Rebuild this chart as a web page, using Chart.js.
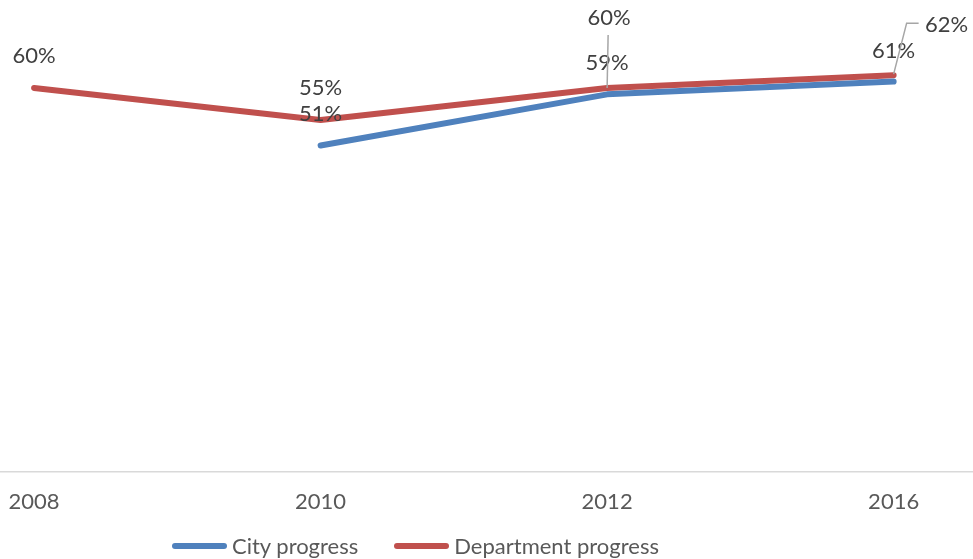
<!DOCTYPE html>
<html>
<head>
<meta charset="utf-8">
<script src="https://cdn.jsdelivr.net/npm/chart.js@4"></script>
<style>
  html, body { margin: 0; padding: 0; background: #fff; }
  #wrap { width: 973px; height: 559px; position: relative; }
  #legend { position: absolute; left: 172px; top: 532px; display: flex; align-items: center;
            font: 22px Lato, 'Open Sans', sans-serif; color: #595959; line-height: 28px; }
  #legend .item { display: flex; align-items: center; margin-right: 36px; }
  #legend .swatch { width: 55px; height: 6px; border-radius: 3px; margin-right: 5px; }
</style>
</head>
<body>
<div id="wrap"><canvas id="chart"></canvas><div id="legend"></div></div>
<script>
"use strict"

const years = ["2008", "2010", "2012", "2016"]
const cityProgress = [null, 0.51, 0.59, 0.61]
const deptProgress = [0.60, 0.55, 0.60, 0.62]

const FONT = "Lato, 'Open Sans', sans-serif"

// label offsets in px: [dx, dy, leader line?]
const labelPos = {
  0: [[0, 0], [0, -32], [0, -31], [0, -31]],
  1: [[0, -32], [0, -32], [2, -70, "v"], [53, -50, "elbow"]]
}

const pct = v => Math.round(v * 100) + "%"
const pts = arr => arr.map((v, i) => ({x: i, y: v}))

const dataLabelPlugin = {
  id: "valueLabels",
  afterDatasetsDraw(chart) {
    const ctx = chart.ctx
    ctx.save()
    ctx.font = "22px " + FONT
    ctx.fillStyle = "#404040"
    ctx.textAlign = "center"
    ctx.textBaseline = "middle"
    chart.data.datasets.forEach((ds, di) => {
      const meta = chart.getDatasetMeta(di)
      meta.data.forEach((el, i) => {
        const v = ds.data[i].y
        if (v == null) return
        const [dx, dy, kind] = labelPos[di][i]
        const tx = el.x + dx, ty = el.y + dy
        if (kind) {
          ctx.strokeStyle = "#a6a6a6"
          ctx.lineWidth = 1.5
          ctx.beginPath()
          if (kind == "v") {
            ctx.moveTo(tx - 1, ty + 17)
            ctx.lineTo(el.x, el.y)
          } else {
            ctx.moveTo(tx - 28, ty - 2)
            ctx.lineTo(tx - 40, ty - 2)
            ctx.lineTo(el.x, el.y - 1)
          }
          ctx.stroke()
        }
        ctx.fillText(pct(v), tx, ty)
      })
    })
    ctx.restore()
  }
}

const chart = new Chart("chart", {
  type: "line",
  data: {
    datasets: [
      { label: "City progress", data: pts(cityProgress), borderColor: "#4f81bd", backgroundColor: "#4f81bd" },
      { label: "Department progress", data: pts(deptProgress), borderColor: "#c0504d", backgroundColor: "#c0504d" }
    ]
  },
  options: {
    responsive: true,
    maintainAspectRatio: false,
    animation: false,
    layout: { padding: { top: 24, left: 0, right: 0, bottom: 27 } },
    elements: {
      line: { borderWidth: 6, tension: 0, borderCapStyle: "round", borderJoinStyle: "round" },
      point: { radius: 0, hoverRadius: 0 }
    },
    scales: {
      x: {
        type: "linear",
        min: -0.119,
        max: 3.277,
        afterBuildTicks: scale => { scale.ticks = years.map((_, i) => ({ value: i })) },
        afterFit: scale => { scale.paddingLeft = 0; scale.paddingRight = 0 },
        grid: { display: false, drawTicks: false },
        border: { display: true, color: "#d9d9d9", width: 1.5 },
        ticks: {
          padding: 17,
          color: "#595959",
          font: { family: FONT, size: 22 },
          autoSkip: false,
          maxRotation: 0,
          callback: v => years[v]
        }
      },
      y: { display: false, min: 0, max: 0.7 }
    },
    plugins: {
      legend: { display: false },
      tooltip: { enabled: false }
    }
  },
  plugins: [dataLabelPlugin]
})

// legend as html, from the datasets
const legend = document.getElementById("legend")
chart.data.datasets.forEach(ds => {
  const item = document.createElement("div")
  item.className = "item"
  const sw = document.createElement("span")
  sw.className = "swatch"
  sw.style.background = ds.borderColor
  const txt = document.createElement("span")
  txt.textContent = ds.label
  item.appendChild(sw); item.appendChild(txt)
  legend.appendChild(item)
})
</script>
</body>
</html>
